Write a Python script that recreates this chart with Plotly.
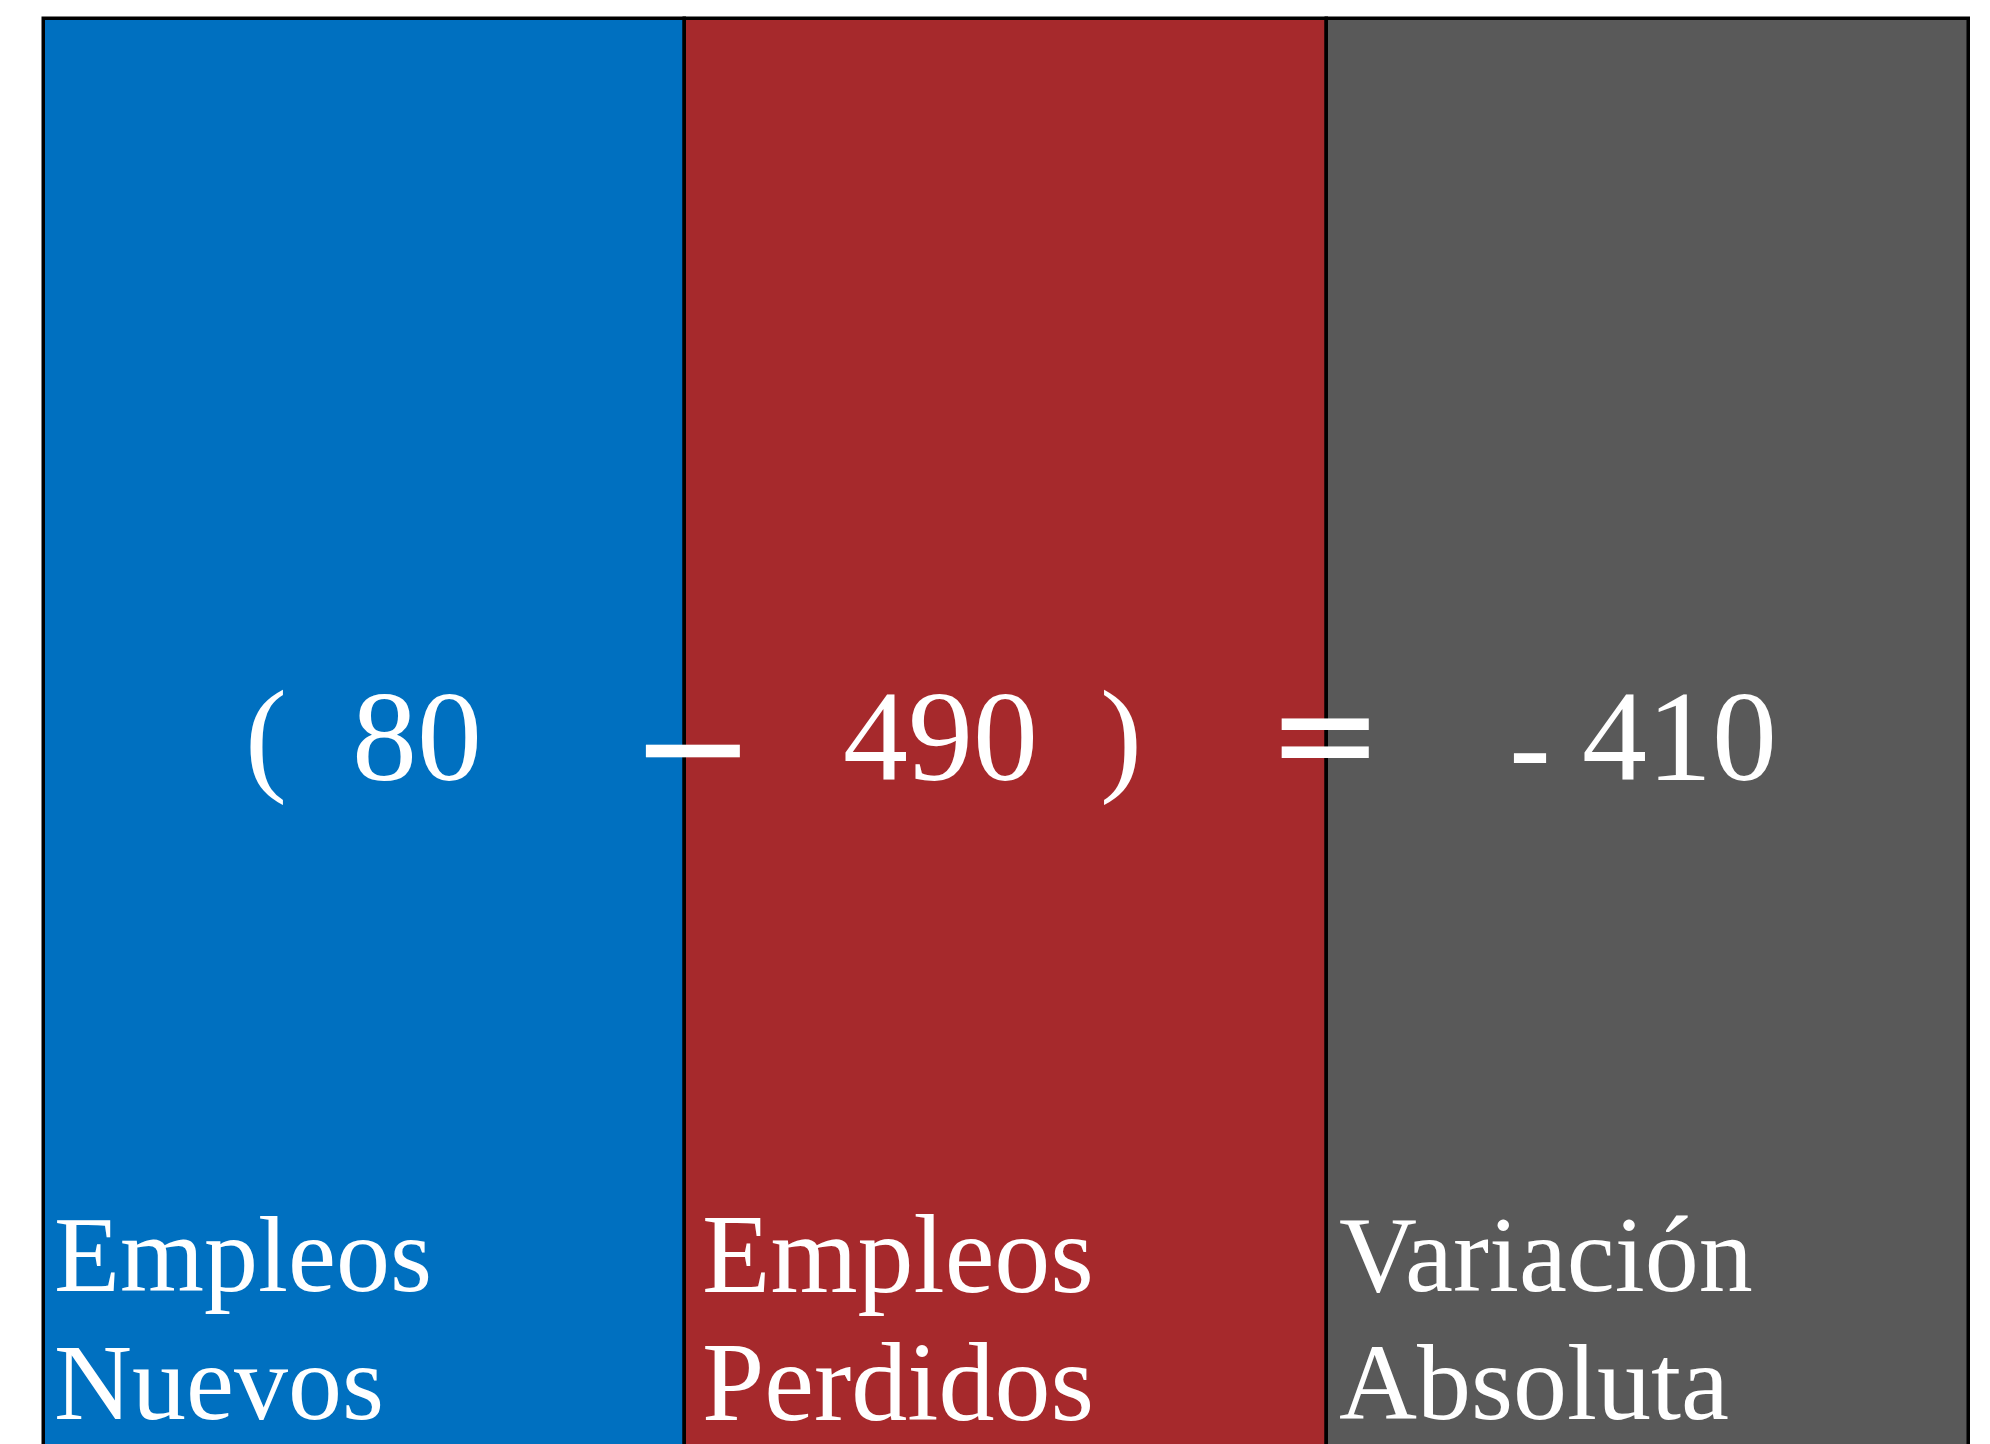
import plotly.graph_objects as go

W, H = 1990, 1444
PAGE_OFFSET = 8  # default body margin of the html page

# data
categories = ["Empleos Nuevos", "Empleos Perdidos", "Variación Absoluta"]
values = [80, 490, -410]
box_heights = [1, 1, 1]
colors = ["#0070C0", "#A6292C", "#595959"]

SERIF = "Liberation Serif, Times New Roman, serif"
SANS = "DejaVu Sans, sans-serif"

# pixel frame of the three boxes (page coordinates)
left_px, right_px, top_px = 43.5 - PAGE_OFFSET, 1968.5 - PAGE_OFFSET, 18.5 - PAGE_OFFSET
unit = (right_px - left_px) / len(categories)
x_range = [-0.5 - left_px / unit, len(categories) - 0.5 + (W - right_px) / unit]
y_low = 0.05
y_top = (H - top_px * y_low) / (H - top_px)

fig = go.Figure(
    go.Bar(
        x=list(range(len(categories))),
        y=box_heights,
        width=1,
        marker={"color": colors, "line": {"color": "black", "width": 3.5}},
        hoverinfo="skip",
    )
)


def note(text, x, y, size, anchor="center", family=SERIF):
    fig.add_annotation(
        text=text, x=(x - PAGE_OFFSET) / W, y=1 - (y - PAGE_OFFSET) / H,
        xref="paper", yref="paper",
        xanchor=anchor, yanchor="middle", showarrow=False,
        font={"family": family, "size": size, "color": "white"},
    )


# equation row: ( new - lost ) = change
num_size = 130
row_y = 736
note("(", 266, row_y, 126)
note(f"{values[0]}", 417, row_y, num_size)
note("−", 693, 746, 150, family=SANS)
note(f"{values[1]}", 940, row_y, num_size)
note(")", 1121, row_y, 126)
note("=", 1325, 734, 139, family=SANS)
note("-", 1530, 749, 122, family=SANS)
note(f"{abs(values[2])}", 1679, row_y, num_size)

# labels at the bottom of each box
label_sizes = [108, 112, 108]
label_shift = [0, 7, 2]
for i, cat in enumerate(categories):
    first, second = cat.split(" ", 1)
    x0 = 43.5 + i * unit + 8 + label_shift[i]
    note(first, x0, 1254, label_sizes[i], "left")
    note(second, x0, 1382, label_sizes[i], "left")

fig.update_layout(
    width=W,
    height=H,
    margin={"l": 0, "r": 0, "t": 0, "b": 0},
    paper_bgcolor="white",
    plot_bgcolor="white",
    showlegend=False,
    bargap=0,
    xaxis={"range": x_range, "visible": False},
    yaxis={"range": [y_low, y_top], "visible": False},
)

fig.write_html("out.html")
